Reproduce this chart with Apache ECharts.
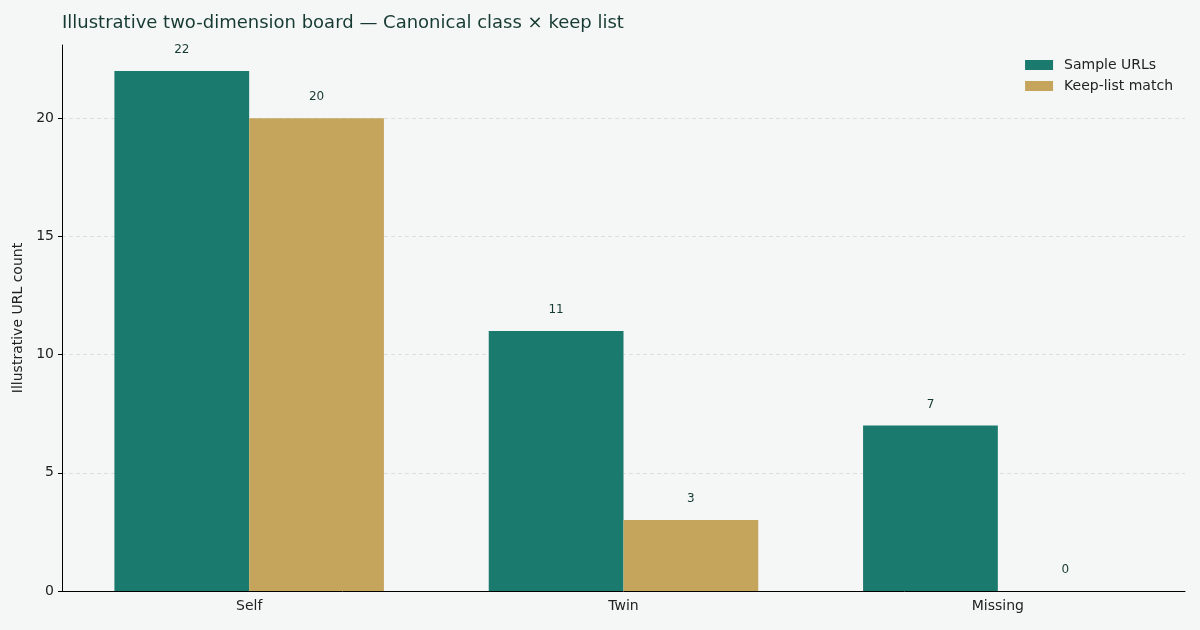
<!DOCTYPE html>
<html><head><meta charset="utf-8">
<script src="https://cdn.jsdelivr.net/npm/echarts@6/dist/echarts.min.js"></script>
<style>html,body{margin:0;padding:0;background:#f5f7f6}#c{width:1200px;height:630px}</style>
</head><body><div id="c"></div>
<script>
const categories = ['Self', 'Twin', 'Missing'];
const sampleUrls = [22, 11, 7];
const keepListMatch = [20, 3, 0];
const yTicks = [0, 5, 10, 15, 20];

const chart = echarts.init(document.getElementById('c'), null, {renderer: 'canvas'});
const font = 'DejaVu Sans';
chart.setOption({
  backgroundColor: '#f5f7f6',
  animation: false,
  textStyle: {fontFamily: font},
  title: {
    text: 'Illustrative two-dimension board — Canonical class × keep list',
    left: 57, top: 9,
    textStyle: {fontFamily: font, fontSize: 18, fontWeight: 'normal', color: '#163a33'}
  },
  legend: {
    orient: 'vertical', right: 22, top: 53,
    itemWidth: 28, itemHeight: 10, itemGap: 7,
    icon: 'rect',
    textStyle: {fontFamily: font, fontSize: 14, color: '#222', padding: [0, 0, 0, 6]},
    data: ['Sample URLs', 'Keep-list match']
  },
  grid: {left: 62, right: 15, top: 45, bottom: 39, containLabel: false},
  xAxis: {
    type: 'category', data: categories,
    axisLine: {lineStyle: {color: '#000', width: 1}},
    axisTick: {alignWithLabel: true, length: 4, lineStyle: {color: '#000'}},
    axisLabel: {fontFamily: font, fontSize: 14, color: '#222', margin: 8}
  },
  yAxis: {
    type: 'value', min: 0, max: 23.1, interval: 5,
    name: 'Illustrative URL count', nameLocation: 'middle', nameGap: 34,
    nameTextStyle: {fontFamily: font, fontSize: 14, color: '#222'},
    axisLine: {show: true, lineStyle: {color: '#000', width: 1}},
    axisTick: {show: true, length: 4, lineStyle: {color: '#000'}},
    axisLabel: {fontFamily: font, fontSize: 14, color: '#222', margin: 8, showMaxLabel: false,
      formatter: v => yTicks.includes(v) ? String(v) : ''},
    splitLine: {show: true, showMaxLine: false, lineStyle: {color: '#dcdfdd', type: [4, 3], width: 1}}
  },
  series: [
    {name: 'Sample URLs', type: 'bar', data: sampleUrls, barGap: '0%', barCategoryGap: '28%',
     itemStyle: {color: '#1b7a6e'},
     label: {show: true, position: 'top', distance: 15, fontFamily: font, fontSize: 12, color: '#163a33'}},
    {name: 'Keep-list match', type: 'bar', data: keepListMatch, barGap: '0%', barCategoryGap: '28%',
     itemStyle: {color: '#c5a45c'},
     label: {show: true, position: 'top', distance: 15, fontFamily: font, fontSize: 12, color: '#163a33'}}
  ]
});
</script></body></html>
